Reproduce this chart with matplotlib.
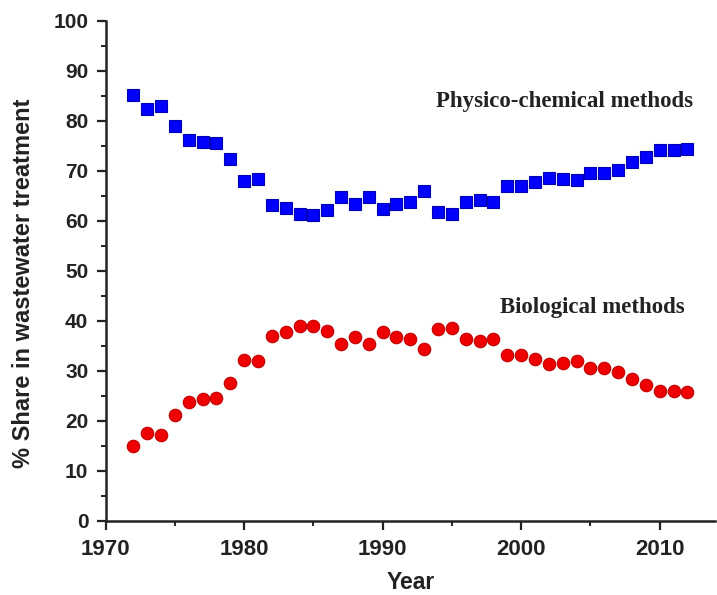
import matplotlib
matplotlib.use("Agg")
import matplotlib.pyplot as plt
from matplotlib.ticker import MultipleLocator

years = list(range(1972, 2013))

physico = [85.2, 82.4, 82.9, 79.0, 76.2, 75.8, 75.6, 72.4, 68.0, 68.4,
           63.1, 62.6, 61.3, 61.2, 62.2, 64.7, 63.3, 64.8, 62.3, 63.3,
           63.8, 65.9, 61.8, 61.4, 63.8, 64.1, 63.8, 66.9, 67.0, 67.8,
           68.6, 68.4, 68.2, 69.6, 69.6, 70.2, 71.8, 72.8, 74.1, 74.1,
           74.3]

biological = [14.9, 17.6, 17.2, 21.1, 23.8, 24.4, 24.6, 27.6, 32.1, 31.9,
              37.0, 37.7, 38.9, 38.9, 37.9, 35.4, 36.8, 35.3, 37.8, 36.8,
              36.4, 34.3, 38.3, 38.6, 36.4, 36.0, 36.4, 33.1, 33.1, 32.3,
              31.4, 31.6, 31.9, 30.6, 30.6, 29.8, 28.4, 27.2, 25.9, 25.9,
              25.8]

fig = plt.figure(figsize=(7.17, 5.95), dpi=100)
ax = fig.add_axes([0.1473, 0.1252, 0.85, 0.8403])

ax.plot(years, physico, linestyle="none", marker="s", markersize=8,
        markerfacecolor="#0000ff", markeredgecolor="#0000b0", markeredgewidth=0.8)
ax.plot(years, biological, linestyle="none", marker="o", markersize=9,
        markerfacecolor="#ee0000", markeredgecolor="#c00000", markeredgewidth=0.8)

ax.set_xlim(1970, 2014)
ax.set_ylim(0, 100)
ax.xaxis.set_major_locator(MultipleLocator(10))
ax.xaxis.set_minor_locator(MultipleLocator(5))
ax.yaxis.set_major_locator(MultipleLocator(10))
ax.yaxis.set_minor_locator(MultipleLocator(5))

for side in ["top", "right"]:
    ax.spines[side].set_visible(False)
for side in ["left", "bottom"]:
    ax.spines[side].set_linewidth(1.8)
    ax.spines[side].set_color("#222222")

ax.tick_params(which="major", direction="out", length=6.5, width=1.6, color="#222222")
ax.tick_params(which="minor", direction="out", length=3.5, width=1.4, color="#222222")
ax.tick_params(axis="x", which="major", pad=7)
ax.tick_params(axis="y", which="major", pad=6)
for lab in ax.get_xticklabels():
    lab.set_fontfamily("Liberation Sans")
    lab.set_fontweight("bold")
    lab.set_fontsize(16)
    lab.set_color("#222222")
for lab in ax.get_yticklabels():
    lab.set_fontfamily("Liberation Sans")
    lab.set_fontweight("bold")
    lab.set_fontsize(15)
    lab.set_color("#222222")

ax.set_xlabel("Year", fontfamily="Liberation Sans", fontweight="bold",
              fontsize=16.5, color="#222222", labelpad=8)
ax.set_ylabel("% Share in wastewater treatment", fontfamily="Liberation Sans",
              fontweight="bold", fontsize=17, color="#222222", va="center")
ax.yaxis.set_label_coords(-0.134, 0.474)

ax.text(2012.4, 82.8, "Physico-chemical methods", ha="right", va="baseline",
        fontfamily="Liberation Serif", fontweight="bold", fontsize=16.5, color="#222222")
ax.text(2011.8, 41.5, "Biological methods", ha="right", va="baseline",
        fontfamily="Liberation Serif", fontweight="bold", fontsize=16.5, color="#222222")

fig.savefig("out.png", dpi=100)
